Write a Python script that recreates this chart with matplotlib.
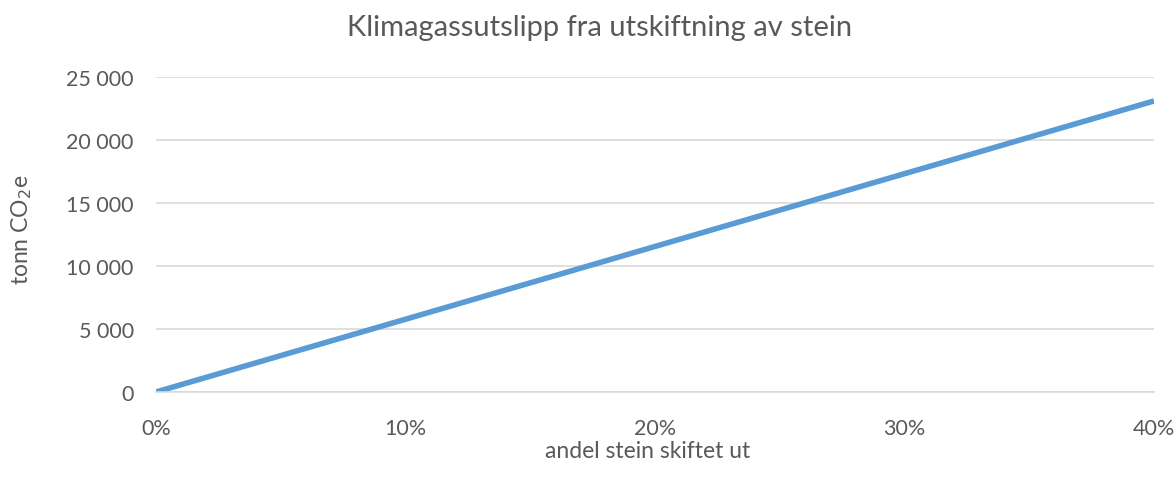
import matplotlib
matplotlib.use("Agg")
import matplotlib.pyplot as plt
from matplotlib.ticker import FuncFormatter

share = [0.0, 0.40]
emissions = [0, 23100]
yticks = [0, 5000, 10000, 15000, 20000, 25000]
xticks = [0.0, 0.1, 0.2, 0.3, 0.4]

plt.rcParams['font.family'] = ['Lato', 'DejaVu Sans']

fig = plt.figure(figsize=(11.76, 4.89), dpi=100)
ax = fig.add_axes([156/1176, (489-393)/489, (1154-156)/1176, (393-78)/489])

ax.plot(share, emissions, color='#5B9BD5', lw=4.0, solid_capstyle='butt')
ax.set_xlim(0, 0.4)
ax.set_ylim(0, 25000)
ax.set_yticks(yticks)
ax.set_xticks(xticks)
ax.yaxis.set_major_formatter(FuncFormatter(lambda v, p: f"{int(v):,}".replace(",", " ")))
ax.xaxis.set_major_formatter(FuncFormatter(lambda v, p: f"{round(v*100)}%"))
ax.grid(axis='y', color='#D9D9D9', lw=1.2)
ax.set_axisbelow(True)
for s in ['top', 'right', 'left']:
    ax.spines[s].set_visible(False)
ax.spines['bottom'].set_color('#D9D9D9')
ax.spines['bottom'].set_linewidth(1.2)
ax.tick_params(length=0, labelsize=15.5, colors='#595959')
ax.tick_params(axis='x', pad=19)
ax.tick_params(axis='y', pad=16)

fig.text(600/1176, 1-28/489, "Klimagassutslipp fra utskiftning av stein", ha='center', va='center',
         fontsize=21, color='#595959')
fig.text(648/1176, 1-452/489, "andel stein skiftet ut", ha='center', va='center',
         fontsize=16.5, color='#595959')
fig.text(22/1176, 1-230/489, r"tonn CO$_2$e", ha='center', va='center', rotation=90,
         fontsize=16.5, color='#595959')

fig.savefig("out.png", dpi=100)
